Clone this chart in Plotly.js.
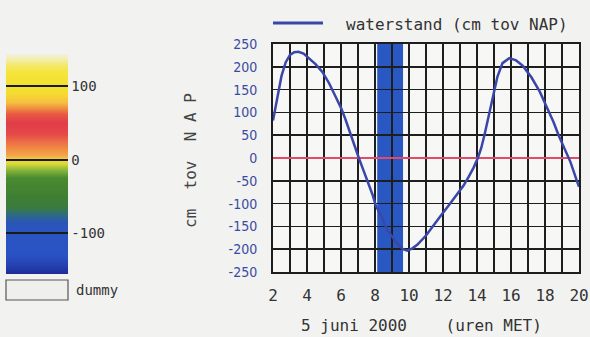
<!DOCTYPE html>
<html>
<head>
<meta charset="utf-8">
<script src="https://cdn.plot.ly/plotly-3.0.1.min.js"></script>
<style>
html,body{margin:0;padding:0;background:#f2f2f0;}
#chart{width:590px;height:337px;}
</style>
</head>
<body>
<div id="chart"></div>
<script>
// ---- data ----
var hours = [2, 2.25, 2.5, 2.75, 3.0, 3.25, 3.5, 3.8, 4.1, 4.5, 4.9, 5.3, 5.65, 6.0, 6.25, 6.5, 6.8, 7.05, 7.3, 7.6, 7.85, 8.05, 8.4, 8.7, 9.0, 9.35, 9.65, 9.9, 10.2, 10.5, 11.0, 11.4, 11.9, 12.4, 12.8, 13.2, 13.5, 13.8, 14.05, 14.25, 14.45, 14.7, 14.9, 15.2, 15.5, 15.9, 16.3, 16.7, 17.2, 17.7, 18.1, 18.5, 18.8, 19.06, 19.5, 19.9, 20];
var waterstand = [82, 135, 180, 210, 226, 232, 233, 229, 220, 206, 189, 164, 137, 110, 86, 58, 26, 0, -25, -53, -80, -105, -130, -156, -172, -190, -200, -203, -198, -190, -170, -149, -125, -101, -80, -61, -42, -21, 0, 22, 52, 92, 127, 178, 208, 219, 214, 202, 177, 145, 112, 79, 50, 27, -9, -53, -63];
var bandHours = [8.13, 9.65];
var xTicks = [2, 4, 6, 8, 10, 12, 14, 16, 18, 20];
var yTicks = [-250, -200, -150, -100, -50, 0, 50, 100, 150, 200, 250];
var scaleTicks = [-100, 0, 100];
var scaleRange = [-156, 144];
var scaleStopValues = [-156, -145, -130, -100, -86, -76, -66, -50, -25, -14, -6, 0, 5, 15, 25, 35, 50, 62, 70, 78, 90, 100, 118, 128, 136, 144];
var scaleStopColors = ['#1e2c96', '#2440b0', '#2a52c4', '#2a55c0', '#2a55b8', '#2d6a86', '#3a7a40', '#3f7f32', '#4a8a30', '#8ab83a', '#dcd838', '#f0d838', '#f2a848', '#f08a44', '#ec6a46', '#e44848', '#e03c48', '#e85a44', '#f09040', '#f5c040', '#f5dc30', '#f2e030', '#f5e43a', '#f3e866', '#f2eea8', '#f2f1e2'];

var W = 590, H = 337;
function px(x){ return x / W; }
function py(y){ return 1 - y / H; }

var colorscale = scaleStopValues.map(function(v, i){
  return [(v - scaleRange[0]) / (scaleRange[1] - scaleRange[0]), scaleStopColors[i]];
});

var mono = 'DejaVu Sans Mono, monospace';
var lineColor = '#3a47a8';

var trace = {
  x: hours, y: waterstand, type: 'scatter', mode: 'lines',
  line: {color: lineColor, width: 2.5},
  showlegend: false, hoverinfo: 'x+y'
};

// invisible markers that carry the colour scale shown at the left
var scaleTrace = {
  x: hours, y: waterstand, type: 'scatter', mode: 'markers',
  marker: {
    size: 1, opacity: 0,
    color: waterstand, colorscale: colorscale, cmin: scaleRange[0], cmax: scaleRange[1],
    showscale: true,
    colorbar: {
      x: px(6), xanchor: 'left', xpad: 0,
      y: py((54 + 274) / 2), yanchor: 'middle', ypad: 0,
      thickness: 62, thicknessmode: 'pixels',
      len: 220, lenmode: 'pixels',
      outlinewidth: 0,
      tickmode: 'array', tickvals: scaleTicks, ticktext: scaleTicks.map(String),
      ticks: 'inside', ticklen: 62, tickwidth: 2, tickcolor: '#1a1a1a',
      tickfont: {family: mono, size: 14, color: '#333'}
    }
  },
  showlegend: false, hoverinfo: 'skip'
};

var layout = {
  width: W, height: H,
  margin: {l: 0, r: 0, t: 0, b: 0},
  paper_bgcolor: '#f2f2f0', plot_bgcolor: '#f7f7f5',
  showlegend: false,
  xaxis: {
    domain: [px(273), px(579)], range: [2, 20],
    tickmode: 'array', tickvals: xTicks, ticktext: xTicks.map(String),
    showgrid: true, gridcolor: '#1e1e1e', gridwidth: 1.5,
    minor: {dtick: 1, tick0: 2, showgrid: true, gridcolor: '#1e1e1e', gridwidth: 1.5},
    showline: true, mirror: true, linecolor: '#1e1e1e', linewidth: 2,
    zeroline: false, ticks: '', ticklabelstandoff: 8,
    tickfont: {family: mono, size: 16, color: '#333'},
    automargin: false, fixedrange: true
  },
  yaxis: {
    domain: [py(272), py(44)], range: [-250, 250],
    tickmode: 'array', tickvals: yTicks, ticktext: yTicks.map(String),
    showgrid: true, gridcolor: '#1e1e1e', gridwidth: 1.5,
    showline: true, mirror: true, linecolor: '#1e1e1e', linewidth: 2,
    zeroline: true, zerolinecolor: '#e34a6a', zerolinewidth: 2,
    ticks: '', ticklabelstandoff: 11,
    tickfont: {family: 'DejaVu Sans Condensed, DejaVu Sans, sans-serif', size: 14, color: '#3a4ba3'},
    automargin: false, fixedrange: true
  },
  shapes: [
    {type: 'rect', xref: 'x', yref: 'y', x0: bandHours[0], x1: bandHours[1], y0: -250, y1: 250,
     fillcolor: '#2a58c2', line: {width: 0}, layer: 'below'},
    {type: 'line', xref: 'paper', yref: 'paper', x0: px(273), x1: px(323), y0: py(23), y1: py(23),
     line: {color: lineColor, width: 3}},
    {type: 'rect', xref: 'paper', yref: 'paper', x0: px(6), x1: px(68), y0: py(300), y1: py(280),
     fillcolor: '#efefec', line: {color: '#555', width: 1.2}}
  ],
  annotations: [
    {text: 'waterstand (cm tov NAP)', xref: 'paper', yref: 'paper', x: px(344), y: py(24),
     xanchor: 'left', yanchor: 'middle', showarrow: false, font: {family: mono, size: 16, color: '#333'}},
    {text: '5 juni 2000\u00a0\u00a0\u00a0\u00a0(uren MET)', xref: 'paper', yref: 'paper', x: px(421), y: py(325),
     xanchor: 'center', yanchor: 'middle', showarrow: false, font: {family: mono, size: 16, color: '#333'}},
    {text: 'cm\u00a0\u00a0tov\u00a0\u00a0N\u00a0A\u00a0P', xref: 'paper', yref: 'paper', x: px(190), y: py(160),
     xanchor: 'center', yanchor: 'middle', textangle: -90, showarrow: false, font: {family: mono, size: 16, color: '#444'}},
    {text: 'dummy', xref: 'paper', yref: 'paper', x: px(74), y: py(290),
     xanchor: 'left', yanchor: 'middle', showarrow: false, font: {family: mono, size: 14, color: '#333'}}
  ]
};

Plotly.newPlot('chart', [scaleTrace, trace], layout, {displayModeBar: false, staticPlot: true});
</script>
</body>
</html>
